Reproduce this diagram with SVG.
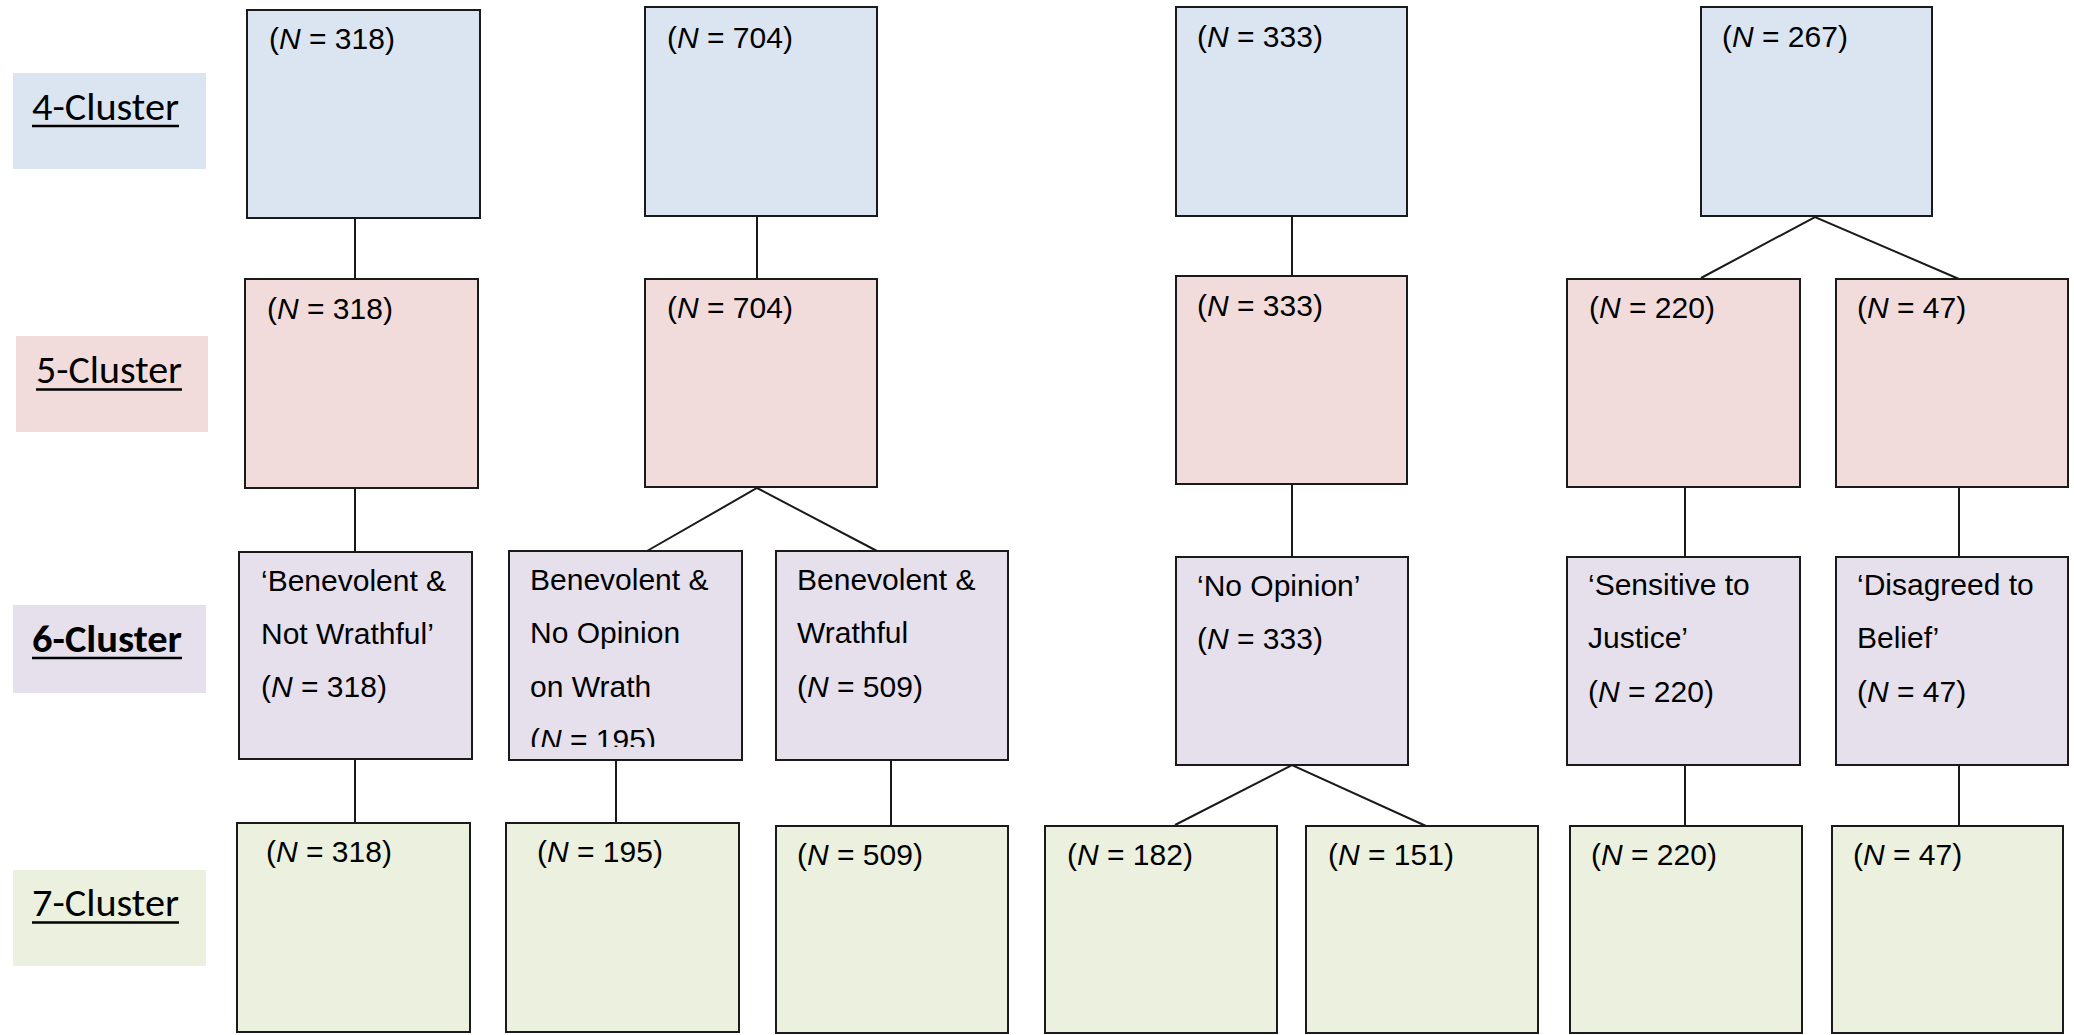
<svg xmlns="http://www.w3.org/2000/svg" width="2074" height="1035" viewBox="0 0 2074 1035">
  <style>
    .node { stroke: #1a1a1a; stroke-width: 2; }
    .c4 { fill: #dbe5f1; }
    .c5 { fill: #f2dcdb; }
    .c6 { fill: #e5e0ec; }
    .c7 { fill: #ebf1de; }
    .t { font-family: "Liberation Sans", Arial, sans-serif; font-size: 30px; fill: #000; }
    .i { font-style: italic; }
    .lab { font-family: Carlito, Lato, "Liberation Sans", sans-serif; font-size: 38px; fill: #000; }
    .ul { stroke: #000; stroke-width: 2.5; }
    .edge { stroke: #1a1a1a; stroke-width: 2; fill: none; }
  </style>
  <defs>
    <clipPath id="clipB3a">
      <rect x="509" y="551" width="233" height="196"/>
    </clipPath>
  </defs>
  <rect width="2074" height="1035" fill="#fff"/>

  <!-- level labels -->
  <g id="label-4">
    <rect x="13" y="73" width="193" height="96" class="c4"/>
    <text x="32" y="120" class="lab" textLength="147" lengthAdjust="spacingAndGlyphs">4-Cluster</text>
    <line x1="32" y1="126" x2="179" y2="126" class="ul"/>
  </g>
  <g id="label-5">
    <rect x="16" y="336" width="192" height="96" class="c5"/>
    <text x="36" y="383" class="lab" textLength="146" lengthAdjust="spacingAndGlyphs">5-Cluster</text>
    <line x1="36" y1="389.5" x2="182" y2="389.5" class="ul"/>
  </g>
  <g id="label-6">
    <rect x="13" y="605" width="193" height="88" class="c6"/>
    <text x="32" y="652" class="lab" font-weight="bold" textLength="150" lengthAdjust="spacingAndGlyphs">6-Cluster</text>
    <line x1="32" y1="658" x2="182" y2="658" class="ul" stroke-width="3"/>
  </g>
  <g id="label-7">
    <rect x="13" y="870" width="193" height="96" class="c7"/>
    <text x="32" y="916" class="lab" textLength="147" lengthAdjust="spacingAndGlyphs">7-Cluster</text>
    <line x1="32" y1="922.5" x2="179" y2="922.5" class="ul"/>
  </g>

  <!-- connectors -->
  <g id="connectors" class="edge">
    <line x1="355" y1="218" x2="355" y2="279"/>
    <line x1="355" y1="488" x2="355" y2="552"/>
    <line x1="355" y1="759" x2="355" y2="823"/>

    <line x1="757" y1="216" x2="757" y2="279"/>
    <polyline points="647,551 757,488 877,551"/>
    <line x1="616" y1="760" x2="616" y2="823"/>
    <line x1="891" y1="760" x2="891" y2="826"/>

    <line x1="1292" y1="216" x2="1292" y2="276"/>
    <line x1="1292" y1="484" x2="1292" y2="557"/>
    <polyline points="1175,825 1292,765 1426,826"/>

    <polyline points="1701,278 1815,217 1959,279"/>
    <line x1="1685" y1="487" x2="1685" y2="557"/>
    <line x1="1685" y1="765" x2="1685" y2="826"/>
    <line x1="1959" y1="487" x2="1959" y2="557"/>
    <line x1="1959" y1="765" x2="1959" y2="826"/>
  </g>

  <!-- 4-cluster solution -->
  <g id="k4-a">
    <rect x="247" y="10" width="233" height="208" class="node c4"/>
    <text x="269" y="49" class="t">(<tspan class="i">N</tspan> = 318)</text>
  </g>
  <g id="k4-b">
    <rect x="645" y="7" width="232" height="209" class="node c4"/>
    <text x="667" y="48" class="t">(<tspan class="i">N</tspan> = 704)</text>
  </g>
  <g id="k4-c">
    <rect x="1176" y="7" width="231" height="209" class="node c4"/>
    <text x="1197" y="47" class="t">(<tspan class="i">N</tspan> = 333)</text>
  </g>
  <g id="k4-d">
    <rect x="1701" y="7" width="231" height="209" class="node c4"/>
    <text x="1722" y="47" class="t">(<tspan class="i">N</tspan> = 267)</text>
  </g>

  <!-- 5-cluster solution -->
  <g id="k5-a">
    <rect x="245" y="279" width="233" height="209" class="node c5"/>
    <text x="267" y="319" class="t">(<tspan class="i">N</tspan> = 318)</text>
  </g>
  <g id="k5-b">
    <rect x="645" y="279" width="232" height="208" class="node c5"/>
    <text x="667" y="318" class="t">(<tspan class="i">N</tspan> = 704)</text>
  </g>
  <g id="k5-c">
    <rect x="1176" y="276" width="231" height="208" class="node c5"/>
    <text x="1197" y="316" class="t">(<tspan class="i">N</tspan> = 333)</text>
  </g>
  <g id="k5-d1">
    <rect x="1567" y="279" width="233" height="208" class="node c5"/>
    <text x="1589" y="318" class="t">(<tspan class="i">N</tspan> = 220)</text>
  </g>
  <g id="k5-d2">
    <rect x="1836" y="279" width="232" height="208" class="node c5"/>
    <text x="1857" y="318" class="t">(<tspan class="i">N</tspan> = 47)</text>
  </g>

  <!-- 6-cluster solution -->
  <g id="k6-a">
    <rect x="239" y="552" width="233" height="207" class="node c6"/>
    <text class="t">
      <tspan x="261" y="591">‘Benevolent &amp;</tspan>
      <tspan x="261" y="644">Not Wrathful’</tspan>
      <tspan x="261" y="697">(<tspan class="i">N</tspan> = 318)</tspan>
    </text>
  </g>
  <g id="k6-b1">
    <rect x="509" y="551" width="233" height="209" class="node c6"/>
    <text class="t" clip-path="url(#clipB3a)">
      <tspan x="530" y="590">Benevolent &amp;</tspan>
      <tspan x="530" y="643">No Opinion</tspan>
      <tspan x="530" y="697">on Wrath</tspan>
      <tspan x="530" y="750">(<tspan class="i">N</tspan> = 195)</tspan>
    </text>
  </g>
  <g id="k6-b2">
    <rect x="776" y="551" width="232" height="209" class="node c6"/>
    <text class="t">
      <tspan x="797" y="590">Benevolent &amp;</tspan>
      <tspan x="797" y="643">Wrathful</tspan>
      <tspan x="797" y="697">(<tspan class="i">N</tspan> = 509)</tspan>
    </text>
  </g>
  <g id="k6-c">
    <rect x="1176" y="557" width="232" height="208" class="node c6"/>
    <text class="t">
      <tspan x="1197" y="596">‘No Opinion’</tspan>
      <tspan x="1197" y="649">(<tspan class="i">N</tspan> = 333)</tspan>
    </text>
  </g>
  <g id="k6-d1">
    <rect x="1567" y="557" width="233" height="208" class="node c6"/>
    <text class="t">
      <tspan x="1588" y="595">‘Sensitive to</tspan>
      <tspan x="1588" y="648">Justice’</tspan>
      <tspan x="1588" y="702">(<tspan class="i">N</tspan> = 220)</tspan>
    </text>
  </g>
  <g id="k6-d2">
    <rect x="1836" y="557" width="232" height="208" class="node c6"/>
    <text class="t">
      <tspan x="1857" y="595">‘Disagreed to</tspan>
      <tspan x="1857" y="648">Belief’</tspan>
      <tspan x="1857" y="702">(<tspan class="i">N</tspan> = 47)</tspan>
    </text>
  </g>

  <!-- 7-cluster solution -->
  <g id="k7-a">
    <rect x="237" y="823" width="233" height="209" class="node c7"/>
    <text x="266" y="862" class="t">(<tspan class="i">N</tspan> = 318)</text>
  </g>
  <g id="k7-b1">
    <rect x="506" y="823" width="233" height="209" class="node c7"/>
    <text x="537" y="862" class="t">(<tspan class="i">N</tspan> = 195)</text>
  </g>
  <g id="k7-b2">
    <rect x="776" y="826" width="232" height="207" class="node c7"/>
    <text x="797" y="865" class="t">(<tspan class="i">N</tspan> = 509)</text>
  </g>
  <g id="k7-c1">
    <rect x="1045" y="826" width="232" height="207" class="node c7"/>
    <text x="1067" y="865" class="t">(<tspan class="i">N</tspan> = 182)</text>
  </g>
  <g id="k7-c2">
    <rect x="1306" y="826" width="232" height="207" class="node c7"/>
    <text x="1328" y="865" class="t">(<tspan class="i">N</tspan> = 151)</text>
  </g>
  <g id="k7-d1">
    <rect x="1570" y="826" width="232" height="207" class="node c7"/>
    <text x="1591" y="865" class="t">(<tspan class="i">N</tspan> = 220)</text>
  </g>
  <g id="k7-d2">
    <rect x="1832" y="826" width="231" height="207" class="node c7"/>
    <text x="1853" y="865" class="t">(<tspan class="i">N</tspan> = 47)</text>
  </g>
</svg>
